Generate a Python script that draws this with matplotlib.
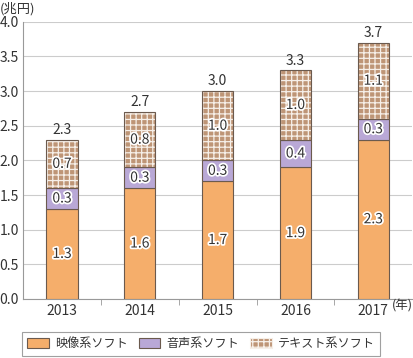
import numpy as np
import matplotlib.pyplot as plt
import matplotlib.patheffects as pe
from matplotlib.patches import Patch

plt.rcParams['font.family'] = ['Noto Sans CJK JP', 'DejaVu Sans']
plt.rcParams['hatch.linewidth'] = 0.9

years = ['2013', '2014', '2015', '2016', '2017']
video = [1.3, 1.6, 1.7, 1.9, 2.3]
audio = [0.3, 0.3, 0.3, 0.4, 0.3]
text = [0.7, 0.8, 1.0, 1.0, 1.1]
totals = [2.3, 2.7, 3.0, 3.3, 3.7]
names = ['映像系ソフト', '音声系ソフト', 'テキスト系ソフト']

c_video = '#F5AE6B'
c_audio = '#B9A8D6'
c_text = '#BE9576'
hatch_col = '#f6efe8'
edge = '#6b5a4e'
txt = '#333333'

fig = plt.figure(figsize=(4.13, 3.58), dpi=100)
ax = fig.add_axes([0.056, 0.165, 0.942, 0.774])

x = np.arange(len(years))
w = 0.4
v = np.array(video)
a = np.array(audio)
t = np.array(text)

ax.bar(x, v, w, color=c_video, edgecolor=edge, linewidth=0.8, zorder=3)
ax.bar(x, a, w, bottom=v, color=c_audio, edgecolor=edge, linewidth=0.8, zorder=3)
# hatched part: light grid lines, then dark outline on top
ax.bar(x, t, w, bottom=v + a, color=c_text, edgecolor=hatch_col, hatch='+++',
       linewidth=0, zorder=3)
ax.bar(x, t, w, bottom=v + a, fill=False, edgecolor=edge, linewidth=0.8, zorder=4)

halo = [pe.withStroke(linewidth=2.5, foreground='white')]
for i in range(len(years)):
    ax.text(x[i], v[i] / 2, f'{video[i]:.1f}', ha='center', va='center',
            fontsize=10, color=txt, path_effects=halo, zorder=5)
    ax.text(x[i], v[i] + a[i] / 2, f'{audio[i]:.1f}', ha='center', va='center',
            fontsize=10, color=txt, path_effects=halo, zorder=5)
    ax.text(x[i], v[i] + a[i] + t[i] / 2, f'{text[i]:.1f}', ha='center', va='center',
            fontsize=10, color=txt, path_effects=halo, zorder=5)
    ax.text(x[i], totals[i] + 0.04, f'{totals[i]:.1f}', ha='center', va='bottom',
            fontsize=10, color=txt, zorder=5)

ax.set_xlim(-0.5, 4.5)
ax.set_ylim(0, 4.0)
ax.set_yticks(np.arange(0, 4.01, 0.5))
ax.set_yticklabels([f'{y:.1f}' for y in np.arange(0, 4.01, 0.5)], fontsize=10, color=txt)
ax.set_xticks(x)
ax.set_xticklabels(years, fontsize=10, color=txt)
ax.tick_params(axis='x', which='major', length=0, pad=4)
ax.tick_params(axis='y', length=0, pad=3)
ax.set_xticks([0.5, 1.5, 2.5, 3.5], minor=True)
ax.tick_params(axis='x', which='minor', length=4, color='#999999')
ax.grid(axis='y', color='#cccccc', linewidth=0.8, zorder=0)
for s in ['top', 'right']:
    ax.spines[s].set_visible(False)
ax.spines['left'].set_color('#999999')
ax.spines['bottom'].set_color('#999999')

fig.text(0.0, 0.975, '(兆円)', fontsize=9.5, color=txt, ha='left', va='center')
fig.text(0.949, 0.145, '(年)', fontsize=9, color=txt, ha='left', va='center')

handles = [Patch(facecolor=c_video, edgecolor=edge, linewidth=0.8),
           Patch(facecolor=c_audio, edgecolor=edge, linewidth=0.8),
           Patch(facecolor=c_text, edgecolor=hatch_col, hatch='+++', linewidth=0.8)]
leg = fig.legend(handles, names, loc='center', bbox_to_anchor=(0.487, 0.04), ncol=3,
                 fontsize=8.7, frameon=True, fancybox=False, edgecolor='#888888',
                 handlelength=1.8, handleheight=0.8, columnspacing=0.9,
                 handletextpad=0.5, borderpad=0.45)
leg.get_frame().set_linewidth(0.8)
for txt_obj in leg.get_texts():
    txt_obj.set_color(txt)

fig.savefig('out.png', dpi=100)
